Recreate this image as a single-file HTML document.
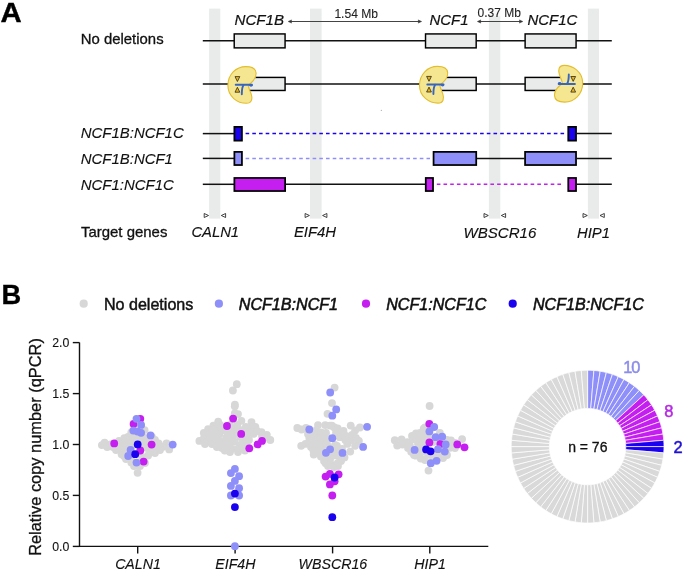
<!DOCTYPE html>
<html><head><meta charset="utf-8"><style>
html,body{margin:0;padding:0;background:#fff;}
svg{display:block;font-family:"Liberation Sans",sans-serif;will-change:transform;}

</style></head><body>
<svg width="685" height="571" viewBox="0 0 685 571">
<rect width="685" height="571" fill="#fff"/>
<rect x="209.1" y="8.6" width="11.2" height="210.0" fill="#e9eaea"/>
<rect x="310.0" y="8.6" width="11.6" height="210.0" fill="#e9eaea"/>
<rect x="488.9" y="8.6" width="11.4" height="210.0" fill="#e9eaea"/>
<rect x="587.9" y="8.6" width="11.1" height="210.0" fill="#e9eaea"/>
<line x1="202.8" y1="40.8" x2="611.8" y2="40.8" stroke="#111" stroke-width="1.5"/>
<rect x="234.22" y="33.93" width="50.85" height="13.95" fill="#e9eaea" stroke="#000" stroke-width="1.45"/>
<rect x="425.53" y="33.93" width="50.65" height="13.95" fill="#e9eaea" stroke="#000" stroke-width="1.45"/>
<rect x="525.12" y="33.93" width="50.95" height="13.95" fill="#e9eaea" stroke="#000" stroke-width="1.45"/>
<line x1="202.8" y1="84.0" x2="611.8" y2="84.0" stroke="#111" stroke-width="1.5"/>
<rect x="234.22" y="77.42" width="50.85" height="13.05" fill="#e9eaea" stroke="#000" stroke-width="1.45"/>
<rect x="425.53" y="77.42" width="50.65" height="13.05" fill="#e9eaea" stroke="#000" stroke-width="1.45"/>
<rect x="525.12" y="77.42" width="50.95" height="13.05" fill="#e9eaea" stroke="#000" stroke-width="1.45"/>
<g transform="translate(227.4,66.6)"><path d="M20.8,18.8 C24,16 29,13 28.7,6.5 C28.4,1.5 24,0 18.5,0 C8.5,0 0.5,8 0.5,19 C0.5,30 10,36.7 19,36.7 C24.5,36.7 25.3,32 23.8,27.5 C22.8,24.5 21,21.5 20.8,18.8 Z" fill="#f5e792" stroke="#e4bd2c" stroke-width="1.1"/><path d="M7.6,10.0 L12.4,10.0 L10,14.9 Z" fill="#e8b21c" stroke="#2e2a1c" stroke-width="0.8"/><path d="M7.6,25.6 L12.4,25.6 L10,20.7 Z" fill="#e8b21c" stroke="#2e2a1c" stroke-width="0.8"/><path d="M8.3,18.1 L24.5,18.1" stroke="#3765c2" stroke-width="1.9" stroke-linecap="round" fill="none"/><path d="M16.1,18.4 C15,20 14.4,23 14.4,27.6" stroke="#3765c2" stroke-width="1.9" stroke-linecap="round" fill="none"/><ellipse cx="23.6" cy="18.7" rx="1.7" ry="1.35" fill="#3765c2"/></g>
<g transform="translate(419.0,66.4)"><path d="M20.8,18.8 C24,16 29,13 28.7,6.5 C28.4,1.5 24,0 18.5,0 C8.5,0 0.5,8 0.5,19 C0.5,30 10,36.7 19,36.7 C24.5,36.7 25.3,32 23.8,27.5 C22.8,24.5 21,21.5 20.8,18.8 Z" fill="#f5e792" stroke="#e4bd2c" stroke-width="1.1"/><path d="M7.6,10.0 L12.4,10.0 L10,14.9 Z" fill="#e8b21c" stroke="#2e2a1c" stroke-width="0.8"/><path d="M7.6,25.6 L12.4,25.6 L10,20.7 Z" fill="#e8b21c" stroke="#2e2a1c" stroke-width="0.8"/><path d="M8.3,18.1 L24.5,18.1" stroke="#3765c2" stroke-width="1.9" stroke-linecap="round" fill="none"/><path d="M16.1,18.4 C15,20 14.4,23 14.4,27.6" stroke="#3765c2" stroke-width="1.9" stroke-linecap="round" fill="none"/><ellipse cx="23.6" cy="18.7" rx="1.7" ry="1.35" fill="#3765c2"/></g>
<g transform="translate(583.2,102.1) rotate(180)"><path d="M20.8,18.8 C24,16 29,13 28.7,6.5 C28.4,1.5 24,0 18.5,0 C8.5,0 0.5,8 0.5,19 C0.5,30 10,36.7 19,36.7 C24.5,36.7 25.3,32 23.8,27.5 C22.8,24.5 21,21.5 20.8,18.8 Z" fill="#f5e792" stroke="#e4bd2c" stroke-width="1.1"/><path d="M7.6,10.0 L12.4,10.0 L10,14.9 Z" fill="#e8b21c" stroke="#2e2a1c" stroke-width="0.8"/><path d="M7.6,25.6 L12.4,25.6 L10,20.7 Z" fill="#e8b21c" stroke="#2e2a1c" stroke-width="0.8"/><path d="M8.3,18.1 L24.5,18.1" stroke="#3765c2" stroke-width="1.9" stroke-linecap="round" fill="none"/><path d="M16.1,18.4 C15,20 14.4,23 14.4,27.6" stroke="#3765c2" stroke-width="1.9" stroke-linecap="round" fill="none"/><ellipse cx="23.6" cy="18.7" rx="1.7" ry="1.35" fill="#3765c2"/></g>
<line x1="202.8" y1="133.6" x2="234" y2="133.6" stroke="#111" stroke-width="1.5"/>
<rect x="234.38" y="126.88" width="7.55" height="13.75" fill="#1a02ee" stroke="#000" stroke-width="1.75"/>
<line x1="245.6" y1="133.6" x2="564.5" y2="133.6" stroke="#1a02ee" stroke-width="1.5" stroke-dasharray="3.6,3.1"/>
<rect x="568.27" y="126.88" width="7.75" height="13.75" fill="#1a02ee" stroke="#000" stroke-width="1.75"/>
<line x1="576.5" y1="133.6" x2="611.8" y2="133.6" stroke="#111" stroke-width="1.5"/>
<line x1="202.8" y1="158.4" x2="234" y2="158.4" stroke="#111" stroke-width="1.5"/>
<rect x="234.38" y="151.88" width="7.55" height="13.15" fill="#8f8ff9" stroke="#000" stroke-width="1.75"/>
<line x1="245.6" y1="158.4" x2="430.0" y2="158.4" stroke="#8f8ff9" stroke-width="1.5" stroke-dasharray="3.6,3.1"/>
<rect x="433.57" y="151.88" width="42.65" height="13.15" fill="#8f8ff9" stroke="#000" stroke-width="1.75"/>
<line x1="477" y1="158.4" x2="524.5" y2="158.4" stroke="#111" stroke-width="1.5"/>
<rect x="525.08" y="151.88" width="50.95" height="13.15" fill="#8f8ff9" stroke="#000" stroke-width="1.75"/>
<line x1="576.5" y1="158.4" x2="611.8" y2="158.4" stroke="#111" stroke-width="1.5"/>
<line x1="202.8" y1="184.3" x2="234" y2="184.3" stroke="#111" stroke-width="1.5"/>
<rect x="234.38" y="177.97" width="50.75" height="13.05" fill="#c41ff0" stroke="#000" stroke-width="1.75"/>
<line x1="285.5" y1="184.3" x2="425.2" y2="184.3" stroke="#111" stroke-width="1.5"/>
<rect x="425.77" y="177.97" width="7.25" height="13.05" fill="#c41ff0" stroke="#000" stroke-width="1.75"/>
<line x1="436.8" y1="184.3" x2="564.0" y2="184.3" stroke="#c41ff0" stroke-width="1.5" stroke-dasharray="3.6,3.1"/>
<rect x="568.27" y="177.97" width="7.75" height="13.05" fill="#c41ff0" stroke="#000" stroke-width="1.75"/>
<line x1="576.5" y1="184.3" x2="611.8" y2="184.3" stroke="#111" stroke-width="1.5"/>
<path d="M204.2,213.5 L208.5,215.5 L204.2,217.5 Z" fill="none" stroke="#222" stroke-width="0.85" stroke-linejoin="round"/>
<path d="M225.6,213.5 L221.3,215.5 L225.6,217.5 Z" fill="none" stroke="#222" stroke-width="0.85" stroke-linejoin="round"/>
<path d="M305.1,213.5 L309.4,215.5 L305.1,217.5 Z" fill="none" stroke="#222" stroke-width="0.85" stroke-linejoin="round"/>
<path d="M326.9,213.5 L322.6,215.5 L326.9,217.5 Z" fill="none" stroke="#222" stroke-width="0.85" stroke-linejoin="round"/>
<path d="M484.0,213.5 L488.3,215.5 L484.0,217.5 Z" fill="none" stroke="#222" stroke-width="0.85" stroke-linejoin="round"/>
<path d="M505.6,213.5 L501.3,215.5 L505.6,217.5 Z" fill="none" stroke="#222" stroke-width="0.85" stroke-linejoin="round"/>
<path d="M583.0,213.5 L587.3,215.5 L583.0,217.5 Z" fill="none" stroke="#222" stroke-width="0.85" stroke-linejoin="round"/>
<path d="M604.3,213.5 L600.0,215.5 L604.3,217.5 Z" fill="none" stroke="#222" stroke-width="0.85" stroke-linejoin="round"/>
<line x1="290" y1="21.5" x2="420" y2="21.5" stroke="#444" stroke-width="1.0"/>
<path d="M288.2,21.5 L291.59999999999997,19.9 L291.09999999999997,21.5 L291.59999999999997,23.1 Z" fill="#333" stroke="#333" stroke-width="0.5" stroke-linejoin="round"/>
<path d="M421.6,21.5 L418.20000000000005,19.9 L418.70000000000005,21.5 L418.20000000000005,23.1 Z" fill="#333" stroke="#333" stroke-width="0.5" stroke-linejoin="round"/>
<line x1="479" y1="21.5" x2="521" y2="21.5" stroke="#444" stroke-width="1.0"/>
<path d="M477.4,21.5 L480.79999999999995,19.9 L480.29999999999995,21.5 L480.79999999999995,23.1 Z" fill="#333" stroke="#333" stroke-width="0.5" stroke-linejoin="round"/>
<path d="M522.8,21.5 L519.4,19.9 L519.9,21.5 L519.4,23.1 Z" fill="#333" stroke="#333" stroke-width="0.5" stroke-linejoin="round"/>
<text transform="translate(0.5,22.0) scale(1.04,1)" font-size="28.2" font-weight="bold" fill="#000" stroke="#000" stroke-width="0.4">A</text>
<text x="80.8" y="43.8" font-size="14.9" text-anchor="start" fill="#111" stroke="#111" stroke-width="0.3" font-weight="normal" >No deletions</text>
<text x="80.8" y="138.1" font-size="14.95" text-anchor="start" fill="#111" stroke="#111" stroke-width="0.12" font-weight="normal" font-style="italic" >NCF1B:NCF1C</text>
<text x="80.8" y="163.6" font-size="14.95" text-anchor="start" fill="#111" stroke="#111" stroke-width="0.12" font-weight="normal" font-style="italic" >NCF1B:NCF1</text>
<text x="80.8" y="189.9" font-size="14.95" text-anchor="start" fill="#111" stroke="#111" stroke-width="0.12" font-weight="normal" font-style="italic" >NCF1:NCF1C</text>
<text x="81.0" y="237.4" font-size="14.95" text-anchor="start" fill="#111" stroke="#111" stroke-width="0.3" font-weight="normal" >Target genes</text>
<text x="234.5" y="24.8" font-size="15.1" text-anchor="start" fill="#111" stroke="#111" stroke-width="0.2" font-weight="normal" font-style="italic" >NCF1B</text>
<text x="429.5" y="24.9" font-size="14.95" text-anchor="start" fill="#111" stroke="#111" stroke-width="0.2" font-weight="normal" font-style="italic" >NCF1</text>
<text x="577.3" y="24.9" font-size="14.95" text-anchor="end" fill="#111" stroke="#111" stroke-width="0.2" font-weight="normal" font-style="italic" >NCF1C</text>
<text x="334.4" y="18" font-size="12.1" text-anchor="start" fill="#222" stroke="#222" stroke-width="0.1" font-weight="normal" >1.54 Mb</text>
<rect x="488" y="8" width="13" height="8.3" fill="#fff" opacity="0.7"/>
<text x="477.6" y="17.4" font-size="12.0" text-anchor="start" fill="#222" stroke="#222" stroke-width="0.1" font-weight="normal" >0.37 Mb</text>
<text x="191.4" y="237.2" font-size="14.8" text-anchor="start" fill="#111" stroke="#111" stroke-width="0.12" font-weight="normal" font-style="italic" >CALN1</text>
<text x="293.9" y="237.2" font-size="14.9" text-anchor="start" fill="#111" stroke="#111" stroke-width="0.12" font-weight="normal" font-style="italic" >EIF4H</text>
<text x="463.4" y="237.6" font-size="15.1" text-anchor="start" fill="#111" stroke="#111" stroke-width="0.12" font-weight="normal" font-style="italic" >WBSCR16</text>
<text x="577.0" y="237.6" font-size="14.8" text-anchor="start" fill="#111" stroke="#111" stroke-width="0.12" font-weight="normal" font-style="italic" >HIP1</text>
<circle cx="381.4" cy="110.4" r="0.7" fill="#bbb"/>
<text x="1.4" y="304.4" font-size="27.3" text-anchor="start" fill="#000" stroke="#000" stroke-width="0.3" font-weight="bold" >B</text>
<circle cx="83.7" cy="303.7" r="4.1" fill="#d7d7d7"/>
<circle cx="218.9" cy="303.7" r="4.1" fill="#8f8ff9"/>
<circle cx="366" cy="303.7" r="4.1" fill="#c41ff0"/>
<circle cx="512.7" cy="303.7" r="4.1" fill="#1a02ee"/>
<text x="103.9" y="309.5" font-size="16.1" text-anchor="start" fill="#111" stroke="#111" stroke-width="0.45" font-weight="normal" >No deletions</text>
<text x="238.8" y="309.5" font-size="16.1" text-anchor="start" fill="#111" stroke="#111" stroke-width="0.55" font-weight="normal" font-style="italic" >NCF1B:NCF1</text>
<text x="386.2" y="309.5" font-size="16.1" text-anchor="start" fill="#111" stroke="#111" stroke-width="0.55" font-weight="normal" font-style="italic" >NCF1:NCF1C</text>
<text x="533.0" y="309.5" font-size="16.1" text-anchor="start" fill="#111" stroke="#111" stroke-width="0.55" font-weight="normal" font-style="italic" >NCF1B:NCF1C</text>
<path d="M79.5,342.6 L79.5,546.4 L488.3,546.4" fill="none" stroke="#111" stroke-width="1.4"/>
<line x1="72.8" y1="546.4" x2="79.5" y2="546.4" stroke="#111" stroke-width="1.4"/>
<text x="69.3" y="550.7" font-size="12.3" text-anchor="end" fill="#111" stroke="#111" stroke-width="0.1" font-weight="normal" >0.0</text>
<line x1="72.8" y1="495.4" x2="79.5" y2="495.4" stroke="#111" stroke-width="1.4"/>
<text x="69.3" y="499.8" font-size="12.3" text-anchor="end" fill="#111" stroke="#111" stroke-width="0.1" font-weight="normal" >0.5</text>
<line x1="72.8" y1="444.5" x2="79.5" y2="444.5" stroke="#111" stroke-width="1.4"/>
<text x="69.3" y="448.8" font-size="12.3" text-anchor="end" fill="#111" stroke="#111" stroke-width="0.1" font-weight="normal" >1.0</text>
<line x1="72.8" y1="393.6" x2="79.5" y2="393.6" stroke="#111" stroke-width="1.4"/>
<text x="69.3" y="397.9" font-size="12.3" text-anchor="end" fill="#111" stroke="#111" stroke-width="0.1" font-weight="normal" >1.5</text>
<line x1="72.8" y1="342.6" x2="79.5" y2="342.6" stroke="#111" stroke-width="1.4"/>
<text x="69.3" y="346.9" font-size="12.3" text-anchor="end" fill="#111" stroke="#111" stroke-width="0.1" font-weight="normal" >2.0</text>
<line x1="137.7" y1="546.4" x2="137.7" y2="553.4" stroke="#111" stroke-width="1.4"/>
<text x="138.0" y="569.2" font-size="14.2" text-anchor="middle" fill="#111" stroke="#111" stroke-width="0.12" font-weight="normal" font-style="italic" >CALN1</text>
<line x1="235.1" y1="546.4" x2="235.1" y2="553.4" stroke="#111" stroke-width="1.4"/>
<text x="235.4" y="569.2" font-size="14.2" text-anchor="middle" fill="#111" stroke="#111" stroke-width="0.12" font-weight="normal" font-style="italic" >EIF4H</text>
<line x1="332.6" y1="546.4" x2="332.6" y2="553.4" stroke="#111" stroke-width="1.4"/>
<text x="332.90000000000003" y="569.2" font-size="14.2" text-anchor="middle" fill="#111" stroke="#111" stroke-width="0.12" font-weight="normal" font-style="italic" >WBSCR16</text>
<line x1="429.8" y1="546.4" x2="429.8" y2="553.4" stroke="#111" stroke-width="1.4"/>
<text x="430.1" y="569.2" font-size="14.2" text-anchor="middle" fill="#111" stroke="#111" stroke-width="0.12" font-weight="normal" font-style="italic" >HIP1</text>
<text transform="translate(40.5,447) rotate(-90)" x="0" y="0" font-size="16.4" text-anchor="middle" fill="#111" stroke="#111" stroke-width="0.3">Relative copy number (qPCR)</text>
<circle cx="101.9" cy="445.1" r="3.9" fill="#d7d7d7"/>
<circle cx="104.6" cy="442.6" r="3.9" fill="#d7d7d7"/>
<circle cx="107.2" cy="447.0" r="3.9" fill="#d7d7d7"/>
<circle cx="110.5" cy="444.5" r="3.9" fill="#d7d7d7"/>
<circle cx="119.0" cy="441.0" r="3.9" fill="#d7d7d7"/>
<circle cx="118.6" cy="448.1" r="3.9" fill="#d7d7d7"/>
<circle cx="123.0" cy="444.0" r="3.9" fill="#d7d7d7"/>
<circle cx="124.3" cy="438.1" r="3.9" fill="#d7d7d7"/>
<circle cx="127.0" cy="446.5" r="3.9" fill="#d7d7d7"/>
<circle cx="129.0" cy="441.0" r="3.9" fill="#d7d7d7"/>
<circle cx="131.3" cy="432.4" r="3.9" fill="#d7d7d7"/>
<circle cx="128.0" cy="437.0" r="3.9" fill="#d7d7d7"/>
<circle cx="133.0" cy="438.0" r="3.9" fill="#d7d7d7"/>
<circle cx="145.0" cy="438.0" r="3.9" fill="#d7d7d7"/>
<circle cx="148.0" cy="441.0" r="3.9" fill="#d7d7d7"/>
<circle cx="144.6" cy="430.1" r="3.9" fill="#d7d7d7"/>
<circle cx="155.0" cy="440.0" r="3.9" fill="#d7d7d7"/>
<circle cx="157.0" cy="448.0" r="3.9" fill="#d7d7d7"/>
<circle cx="158.6" cy="443.3" r="3.9" fill="#d7d7d7"/>
<circle cx="163.0" cy="446.8" r="3.9" fill="#d7d7d7"/>
<circle cx="166.5" cy="443.3" r="3.9" fill="#d7d7d7"/>
<circle cx="169.2" cy="449.4" r="3.9" fill="#d7d7d7"/>
<circle cx="160.0" cy="450.0" r="3.9" fill="#d7d7d7"/>
<circle cx="147.0" cy="448.0" r="3.9" fill="#d7d7d7"/>
<circle cx="150.0" cy="452.0" r="3.9" fill="#d7d7d7"/>
<circle cx="148.1" cy="455.5" r="3.9" fill="#d7d7d7"/>
<circle cx="121.6" cy="454.3" r="3.9" fill="#d7d7d7"/>
<circle cx="125.0" cy="451.0" r="3.9" fill="#d7d7d7"/>
<circle cx="116.0" cy="450.0" r="3.9" fill="#d7d7d7"/>
<circle cx="113.0" cy="447.0" r="3.9" fill="#d7d7d7"/>
<circle cx="131.3" cy="462.6" r="3.9" fill="#d7d7d7"/>
<circle cx="134.0" cy="466.0" r="3.9" fill="#d7d7d7"/>
<circle cx="137.6" cy="472.8" r="3.9" fill="#d7d7d7"/>
<circle cx="140.0" cy="466.0" r="3.9" fill="#d7d7d7"/>
<circle cx="142.0" cy="457.0" r="3.9" fill="#d7d7d7"/>
<circle cx="145.0" cy="463.0" r="3.9" fill="#d7d7d7"/>
<circle cx="131.0" cy="458.0" r="3.9" fill="#d7d7d7"/>
<circle cx="126.0" cy="459.0" r="3.9" fill="#d7d7d7"/>
<circle cx="137.0" cy="436.0" r="3.9" fill="#d7d7d7"/>
<circle cx="141.0" cy="440.0" r="3.9" fill="#d7d7d7"/>
<circle cx="152.0" cy="437.0" r="3.9" fill="#d7d7d7"/>
<circle cx="135.0" cy="441.0" r="3.9" fill="#d7d7d7"/>
<circle cx="127.0" cy="452.0" r="3.9" fill="#d7d7d7"/>
<circle cx="124.0" cy="456.0" r="3.9" fill="#d7d7d7"/>
<circle cx="131.0" cy="447.0" r="3.9" fill="#d7d7d7"/>
<circle cx="126.0" cy="442.0" r="3.9" fill="#d7d7d7"/>
<circle cx="152.0" cy="448.0" r="3.9" fill="#d7d7d7"/>
<circle cx="155.0" cy="453.0" r="3.9" fill="#d7d7d7"/>
<circle cx="119.0" cy="444.0" r="3.9" fill="#d7d7d7"/>
<circle cx="145.0" cy="444.0" r="3.9" fill="#d7d7d7"/>
<circle cx="160.0" cy="446.0" r="3.9" fill="#d7d7d7"/>
<circle cx="133.0" cy="443.0" r="3.9" fill="#d7d7d7"/>
<circle cx="236.8" cy="384.2" r="3.9" fill="#d7d7d7"/>
<circle cx="232.9" cy="390.5" r="3.9" fill="#d7d7d7"/>
<circle cx="234.9" cy="404.7" r="3.9" fill="#d7d7d7"/>
<circle cx="234.8" cy="406.3" r="3.9" fill="#d7d7d7"/>
<circle cx="234.8" cy="413.3" r="3.9" fill="#d7d7d7"/>
<circle cx="238.0" cy="414.1" r="3.9" fill="#d7d7d7"/>
<circle cx="218.2" cy="421.6" r="3.9" fill="#d7d7d7"/>
<circle cx="213.4" cy="425.6" r="3.9" fill="#d7d7d7"/>
<circle cx="208.1" cy="429.1" r="3.9" fill="#d7d7d7"/>
<circle cx="203.8" cy="433.0" r="3.9" fill="#d7d7d7"/>
<circle cx="199.4" cy="440.9" r="3.9" fill="#d7d7d7"/>
<circle cx="207.3" cy="441.8" r="3.9" fill="#d7d7d7"/>
<circle cx="216.9" cy="447.0" r="3.9" fill="#d7d7d7"/>
<circle cx="224.8" cy="450.5" r="3.9" fill="#d7d7d7"/>
<circle cx="231.8" cy="448.8" r="3.9" fill="#d7d7d7"/>
<circle cx="212.5" cy="437.4" r="3.9" fill="#d7d7d7"/>
<circle cx="219.5" cy="433.9" r="3.9" fill="#d7d7d7"/>
<circle cx="221.3" cy="441.8" r="3.9" fill="#d7d7d7"/>
<circle cx="228.3" cy="433.9" r="3.9" fill="#d7d7d7"/>
<circle cx="216.9" cy="428.6" r="3.9" fill="#d7d7d7"/>
<circle cx="225.6" cy="444.4" r="3.9" fill="#d7d7d7"/>
<circle cx="234.4" cy="441.8" r="3.9" fill="#d7d7d7"/>
<circle cx="236.2" cy="427.8" r="3.9" fill="#d7d7d7"/>
<circle cx="241.4" cy="420.8" r="3.9" fill="#d7d7d7"/>
<circle cx="251.5" cy="422.1" r="3.9" fill="#d7d7d7"/>
<circle cx="255.4" cy="426.9" r="3.9" fill="#d7d7d7"/>
<circle cx="261.5" cy="432.1" r="3.9" fill="#d7d7d7"/>
<circle cx="266.8" cy="434.8" r="3.9" fill="#d7d7d7"/>
<circle cx="270.3" cy="440.0" r="3.9" fill="#d7d7d7"/>
<circle cx="245.8" cy="426.9" r="3.9" fill="#d7d7d7"/>
<circle cx="247.5" cy="433.9" r="3.9" fill="#d7d7d7"/>
<circle cx="253.6" cy="433.9" r="3.9" fill="#d7d7d7"/>
<circle cx="249.0" cy="440.0" r="3.9" fill="#d7d7d7"/>
<circle cx="244.0" cy="441.8" r="3.9" fill="#d7d7d7"/>
<circle cx="244.9" cy="450.5" r="3.9" fill="#d7d7d7"/>
<circle cx="237.9" cy="448.8" r="3.9" fill="#d7d7d7"/>
<circle cx="232.6" cy="430.4" r="3.9" fill="#d7d7d7"/>
<circle cx="222.0" cy="428.0" r="3.9" fill="#d7d7d7"/>
<circle cx="210.0" cy="433.0" r="3.9" fill="#d7d7d7"/>
<circle cx="204.0" cy="438.0" r="3.9" fill="#d7d7d7"/>
<circle cx="226.0" cy="438.0" r="3.9" fill="#d7d7d7"/>
<circle cx="240.0" cy="437.0" r="3.9" fill="#d7d7d7"/>
<circle cx="264.0" cy="438.0" r="3.9" fill="#d7d7d7"/>
<circle cx="229.0" cy="446.0" r="3.9" fill="#d7d7d7"/>
<circle cx="220.0" cy="446.0" r="3.9" fill="#d7d7d7"/>
<circle cx="212.0" cy="444.0" r="3.9" fill="#d7d7d7"/>
<circle cx="240.0" cy="445.0" r="3.9" fill="#d7d7d7"/>
<circle cx="247.0" cy="446.0" r="3.9" fill="#d7d7d7"/>
<circle cx="230.0" cy="425.0" r="3.9" fill="#d7d7d7"/>
<circle cx="215.0" cy="437.7" r="3.9" fill="#d7d7d7"/>
<circle cx="229.4" cy="433.0" r="3.9" fill="#d7d7d7"/>
<circle cx="237.3" cy="425.0" r="3.9" fill="#d7d7d7"/>
<circle cx="250.0" cy="428.3" r="3.9" fill="#d7d7d7"/>
<circle cx="228.0" cy="440.0" r="3.9" fill="#d7d7d7"/>
<circle cx="233.0" cy="436.0" r="3.9" fill="#d7d7d7"/>
<circle cx="218.0" cy="438.0" r="3.9" fill="#d7d7d7"/>
<circle cx="238.0" cy="432.0" r="3.9" fill="#d7d7d7"/>
<circle cx="246.0" cy="438.0" r="3.9" fill="#d7d7d7"/>
<circle cx="252.0" cy="428.0" r="3.9" fill="#d7d7d7"/>
<circle cx="257.0" cy="431.0" r="3.9" fill="#d7d7d7"/>
<circle cx="262.0" cy="436.0" r="3.9" fill="#d7d7d7"/>
<circle cx="208.0" cy="436.0" r="3.9" fill="#d7d7d7"/>
<circle cx="214.0" cy="432.0" r="3.9" fill="#d7d7d7"/>
<circle cx="226.0" cy="431.0" r="3.9" fill="#d7d7d7"/>
<circle cx="220.0" cy="425.0" r="3.9" fill="#d7d7d7"/>
<circle cx="243.0" cy="430.0" r="3.9" fill="#d7d7d7"/>
<circle cx="222.0" cy="448.0" r="3.9" fill="#d7d7d7"/>
<circle cx="230.0" cy="452.0" r="3.9" fill="#d7d7d7"/>
<circle cx="238.0" cy="452.0" r="3.9" fill="#d7d7d7"/>
<circle cx="216.0" cy="443.0" r="3.9" fill="#d7d7d7"/>
<circle cx="205.0" cy="444.0" r="3.9" fill="#d7d7d7"/>
<circle cx="334.6" cy="387.6" r="3.9" fill="#d7d7d7"/>
<circle cx="332.0" cy="403.1" r="3.9" fill="#d7d7d7"/>
<circle cx="327.5" cy="413.8" r="3.9" fill="#d7d7d7"/>
<circle cx="297.3" cy="428.0" r="3.9" fill="#d7d7d7"/>
<circle cx="301.6" cy="429.5" r="3.9" fill="#d7d7d7"/>
<circle cx="306.0" cy="428.0" r="3.9" fill="#d7d7d7"/>
<circle cx="318.0" cy="425.1" r="3.9" fill="#d7d7d7"/>
<circle cx="316.1" cy="430.4" r="3.9" fill="#d7d7d7"/>
<circle cx="320.9" cy="432.3" r="3.9" fill="#d7d7d7"/>
<circle cx="325.2" cy="425.1" r="3.9" fill="#d7d7d7"/>
<circle cx="330.1" cy="425.6" r="3.9" fill="#d7d7d7"/>
<circle cx="334.4" cy="427.5" r="3.9" fill="#d7d7d7"/>
<circle cx="309.3" cy="438.1" r="3.9" fill="#d7d7d7"/>
<circle cx="314.2" cy="441.0" r="3.9" fill="#d7d7d7"/>
<circle cx="320.0" cy="442.0" r="3.9" fill="#d7d7d7"/>
<circle cx="301.2" cy="445.8" r="3.9" fill="#d7d7d7"/>
<circle cx="305.5" cy="443.9" r="3.9" fill="#d7d7d7"/>
<circle cx="313.7" cy="454.5" r="3.9" fill="#d7d7d7"/>
<circle cx="318.0" cy="452.6" r="3.9" fill="#d7d7d7"/>
<circle cx="320.9" cy="456.4" r="3.9" fill="#d7d7d7"/>
<circle cx="325.7" cy="463.2" r="3.9" fill="#d7d7d7"/>
<circle cx="332.5" cy="465.1" r="3.9" fill="#d7d7d7"/>
<circle cx="323.8" cy="446.8" r="3.9" fill="#d7d7d7"/>
<circle cx="331.9" cy="425.6" r="3.9" fill="#d7d7d7"/>
<circle cx="337.7" cy="428.5" r="3.9" fill="#d7d7d7"/>
<circle cx="343.5" cy="430.9" r="3.9" fill="#d7d7d7"/>
<circle cx="350.7" cy="425.6" r="3.9" fill="#d7d7d7"/>
<circle cx="355.1" cy="430.4" r="3.9" fill="#d7d7d7"/>
<circle cx="359.9" cy="427.5" r="3.9" fill="#d7d7d7"/>
<circle cx="339.6" cy="437.2" r="3.9" fill="#d7d7d7"/>
<circle cx="345.4" cy="440.1" r="3.9" fill="#d7d7d7"/>
<circle cx="351.2" cy="440.1" r="3.9" fill="#d7d7d7"/>
<circle cx="358.9" cy="441.0" r="3.9" fill="#d7d7d7"/>
<circle cx="355.1" cy="445.8" r="3.9" fill="#d7d7d7"/>
<circle cx="347.3" cy="443.9" r="3.9" fill="#d7d7d7"/>
<circle cx="350.2" cy="451.6" r="3.9" fill="#d7d7d7"/>
<circle cx="344.5" cy="457.4" r="3.9" fill="#d7d7d7"/>
<circle cx="337.7" cy="463.2" r="3.9" fill="#d7d7d7"/>
<circle cx="333.9" cy="467.0" r="3.9" fill="#d7d7d7"/>
<circle cx="326.0" cy="458.0" r="3.9" fill="#d7d7d7"/>
<circle cx="330.0" cy="460.0" r="3.9" fill="#d7d7d7"/>
<circle cx="338.0" cy="456.0" r="3.9" fill="#d7d7d7"/>
<circle cx="341.0" cy="460.0" r="3.9" fill="#d7d7d7"/>
<circle cx="312.0" cy="433.0" r="3.9" fill="#d7d7d7"/>
<circle cx="326.0" cy="433.0" r="3.9" fill="#d7d7d7"/>
<circle cx="336.0" cy="433.0" r="3.9" fill="#d7d7d7"/>
<circle cx="327.0" cy="444.0" r="3.9" fill="#d7d7d7"/>
<circle cx="337.0" cy="446.0" r="3.9" fill="#d7d7d7"/>
<circle cx="342.0" cy="449.0" r="3.9" fill="#d7d7d7"/>
<circle cx="321.0" cy="450.0" r="3.9" fill="#d7d7d7"/>
<circle cx="316.0" cy="446.0" r="3.9" fill="#d7d7d7"/>
<circle cx="311.0" cy="447.0" r="3.9" fill="#d7d7d7"/>
<circle cx="308.0" cy="434.0" r="3.9" fill="#d7d7d7"/>
<circle cx="313.0" cy="437.0" r="3.9" fill="#d7d7d7"/>
<circle cx="318.0" cy="436.0" r="3.9" fill="#d7d7d7"/>
<circle cx="322.0" cy="440.0" r="3.9" fill="#d7d7d7"/>
<circle cx="327.0" cy="438.0" r="3.9" fill="#d7d7d7"/>
<circle cx="310.0" cy="443.0" r="3.9" fill="#d7d7d7"/>
<circle cx="316.0" cy="449.0" r="3.9" fill="#d7d7d7"/>
<circle cx="322.0" cy="455.0" r="3.9" fill="#d7d7d7"/>
<circle cx="327.0" cy="456.0" r="3.9" fill="#d7d7d7"/>
<circle cx="321.2" cy="433.0" r="3.9" fill="#d7d7d7"/>
<circle cx="316.5" cy="444.0" r="3.9" fill="#d7d7d7"/>
<circle cx="313.4" cy="450.4" r="3.9" fill="#d7d7d7"/>
<circle cx="340.0" cy="433.0" r="3.9" fill="#d7d7d7"/>
<circle cx="346.0" cy="436.0" r="3.9" fill="#d7d7d7"/>
<circle cx="352.0" cy="435.0" r="3.9" fill="#d7d7d7"/>
<circle cx="356.0" cy="438.0" r="3.9" fill="#d7d7d7"/>
<circle cx="324.0" cy="461.0" r="3.9" fill="#d7d7d7"/>
<circle cx="341.0" cy="461.0" r="3.9" fill="#d7d7d7"/>
<circle cx="328.0" cy="466.0" r="3.9" fill="#d7d7d7"/>
<circle cx="338.0" cy="466.0" r="3.9" fill="#d7d7d7"/>
<circle cx="335.0" cy="445.0" r="3.9" fill="#d7d7d7"/>
<circle cx="332.0" cy="456.0" r="3.9" fill="#d7d7d7"/>
<circle cx="328.0" cy="447.0" r="3.9" fill="#d7d7d7"/>
<circle cx="336.0" cy="452.0" r="3.9" fill="#d7d7d7"/>
<circle cx="429.6" cy="406.0" r="3.9" fill="#d7d7d7"/>
<circle cx="394.8" cy="440.2" r="3.9" fill="#d7d7d7"/>
<circle cx="397.2" cy="445.5" r="3.9" fill="#d7d7d7"/>
<circle cx="401.6" cy="439.3" r="3.9" fill="#d7d7d7"/>
<circle cx="402.5" cy="444.6" r="3.9" fill="#d7d7d7"/>
<circle cx="407.3" cy="442.2" r="3.9" fill="#d7d7d7"/>
<circle cx="416.0" cy="433.5" r="3.9" fill="#d7d7d7"/>
<circle cx="413.1" cy="439.3" r="3.9" fill="#d7d7d7"/>
<circle cx="423.7" cy="428.7" r="3.9" fill="#d7d7d7"/>
<circle cx="418.9" cy="439.3" r="3.9" fill="#d7d7d7"/>
<circle cx="411.2" cy="451.8" r="3.9" fill="#d7d7d7"/>
<circle cx="416.0" cy="455.7" r="3.9" fill="#d7d7d7"/>
<circle cx="420.8" cy="458.5" r="3.9" fill="#d7d7d7"/>
<circle cx="418.9" cy="448.9" r="3.9" fill="#d7d7d7"/>
<circle cx="428.5" cy="470.6" r="3.9" fill="#d7d7d7"/>
<circle cx="421.8" cy="444.1" r="3.9" fill="#d7d7d7"/>
<circle cx="439.9" cy="432.8" r="3.9" fill="#d7d7d7"/>
<circle cx="451.0" cy="440.5" r="3.9" fill="#d7d7d7"/>
<circle cx="462.1" cy="439.1" r="3.9" fill="#d7d7d7"/>
<circle cx="450.1" cy="447.8" r="3.9" fill="#d7d7d7"/>
<circle cx="439.5" cy="454.5" r="3.9" fill="#d7d7d7"/>
<circle cx="427.9" cy="454.5" r="3.9" fill="#d7d7d7"/>
<circle cx="425.0" cy="427.5" r="3.9" fill="#d7d7d7"/>
<circle cx="425.0" cy="438.0" r="3.9" fill="#d7d7d7"/>
<circle cx="433.0" cy="442.0" r="3.9" fill="#d7d7d7"/>
<circle cx="436.0" cy="455.0" r="3.9" fill="#d7d7d7"/>
<circle cx="444.0" cy="456.0" r="3.9" fill="#d7d7d7"/>
<circle cx="447.0" cy="440.0" r="3.9" fill="#d7d7d7"/>
<circle cx="455.0" cy="443.0" r="3.9" fill="#d7d7d7"/>
<circle cx="425.0" cy="460.0" r="3.9" fill="#d7d7d7"/>
<circle cx="424.0" cy="434.0" r="3.9" fill="#d7d7d7"/>
<circle cx="410.0" cy="446.0" r="3.9" fill="#d7d7d7"/>
<circle cx="418.0" cy="444.0" r="3.9" fill="#d7d7d7"/>
<circle cx="421.0" cy="452.0" r="3.9" fill="#d7d7d7"/>
<circle cx="425.0" cy="446.0" r="3.9" fill="#d7d7d7"/>
<circle cx="412.0" cy="436.0" r="3.9" fill="#d7d7d7"/>
<circle cx="420.0" cy="433.0" r="3.9" fill="#d7d7d7"/>
<circle cx="428.0" cy="437.0" r="3.9" fill="#d7d7d7"/>
<circle cx="437.0" cy="441.0" r="3.9" fill="#d7d7d7"/>
<circle cx="443.0" cy="458.0" r="3.9" fill="#d7d7d7"/>
<circle cx="447.0" cy="455.0" r="3.9" fill="#d7d7d7"/>
<circle cx="408.0" cy="448.0" r="3.9" fill="#d7d7d7"/>
<circle cx="414.0" cy="455.0" r="3.9" fill="#d7d7d7"/>
<circle cx="433.0" cy="458.0" r="3.9" fill="#d7d7d7"/>
<circle cx="455.0" cy="448.0" r="3.9" fill="#d7d7d7"/>
<circle cx="446.0" cy="448.0" r="3.9" fill="#d7d7d7"/>
<circle cx="140.3" cy="418.8" r="3.9" fill="#c41ff0"/>
<circle cx="133.6" cy="424.0" r="3.9" fill="#c41ff0"/>
<circle cx="114.2" cy="443.4" r="3.9" fill="#c41ff0"/>
<circle cx="151.6" cy="444.6" r="3.9" fill="#c41ff0"/>
<circle cx="140.3" cy="450.5" r="3.9" fill="#c41ff0"/>
<circle cx="143.6" cy="461.6" r="3.9" fill="#c41ff0"/>
<circle cx="233.1" cy="418.6" r="3.9" fill="#c41ff0"/>
<circle cx="227.0" cy="426.0" r="3.9" fill="#c41ff0"/>
<circle cx="241.2" cy="433.9" r="3.9" fill="#c41ff0"/>
<circle cx="262.0" cy="440.9" r="3.9" fill="#c41ff0"/>
<circle cx="257.6" cy="444.4" r="3.9" fill="#c41ff0"/>
<circle cx="249.3" cy="448.3" r="3.9" fill="#c41ff0"/>
<circle cx="325.6" cy="476.6" r="3.9" fill="#c41ff0"/>
<circle cx="329.9" cy="473.9" r="3.9" fill="#c41ff0"/>
<circle cx="338.6" cy="474.3" r="3.9" fill="#c41ff0"/>
<circle cx="329.9" cy="484.4" r="3.9" fill="#c41ff0"/>
<circle cx="334.6" cy="481.3" r="3.9" fill="#c41ff0"/>
<circle cx="332.3" cy="495.5" r="3.9" fill="#c41ff0"/>
<circle cx="429.3" cy="423.8" r="3.9" fill="#c41ff0"/>
<circle cx="429.4" cy="442.4" r="3.9" fill="#c41ff0"/>
<circle cx="440.4" cy="443.9" r="3.9" fill="#c41ff0"/>
<circle cx="457.3" cy="444.4" r="3.9" fill="#c41ff0"/>
<circle cx="464.5" cy="447.3" r="3.9" fill="#c41ff0"/>
<circle cx="136.5" cy="418.8" r="3.9" fill="#8f8ff9"/>
<circle cx="141.1" cy="424.9" r="3.9" fill="#8f8ff9"/>
<circle cx="133.3" cy="430.6" r="3.9" fill="#8f8ff9"/>
<circle cx="137.6" cy="431.5" r="3.9" fill="#8f8ff9"/>
<circle cx="141.1" cy="432.8" r="3.9" fill="#8f8ff9"/>
<circle cx="150.6" cy="435.4" r="3.9" fill="#8f8ff9"/>
<circle cx="172.7" cy="444.6" r="3.9" fill="#8f8ff9"/>
<circle cx="130.6" cy="449.9" r="3.9" fill="#8f8ff9"/>
<circle cx="128.2" cy="456.0" r="3.9" fill="#8f8ff9"/>
<circle cx="136.5" cy="462.6" r="3.9" fill="#8f8ff9"/>
<circle cx="234.9" cy="468.9" r="3.9" fill="#8f8ff9"/>
<circle cx="230.9" cy="473.1" r="3.9" fill="#8f8ff9"/>
<circle cx="239.1" cy="476.2" r="3.9" fill="#8f8ff9"/>
<circle cx="234.9" cy="480.9" r="3.9" fill="#8f8ff9"/>
<circle cx="230.9" cy="485.9" r="3.9" fill="#8f8ff9"/>
<circle cx="239.1" cy="488.2" r="3.9" fill="#8f8ff9"/>
<circle cx="230.9" cy="495.5" r="3.9" fill="#8f8ff9"/>
<circle cx="239.1" cy="495.5" r="3.9" fill="#8f8ff9"/>
<circle cx="234.9" cy="546.2" r="3.9" fill="#8f8ff9"/>
<circle cx="330.2" cy="392.5" r="3.9" fill="#8f8ff9"/>
<circle cx="336.2" cy="409.4" r="3.9" fill="#8f8ff9"/>
<circle cx="332.3" cy="415.7" r="3.9" fill="#8f8ff9"/>
<circle cx="309.3" cy="429.5" r="3.9" fill="#8f8ff9"/>
<circle cx="367.1" cy="426.8" r="3.9" fill="#8f8ff9"/>
<circle cx="332.3" cy="438.2" r="3.9" fill="#8f8ff9"/>
<circle cx="363.1" cy="446.9" r="3.9" fill="#8f8ff9"/>
<circle cx="330.1" cy="449.3" r="3.9" fill="#8f8ff9"/>
<circle cx="325.9" cy="452.8" r="3.9" fill="#8f8ff9"/>
<circle cx="342.5" cy="452.9" r="3.9" fill="#8f8ff9"/>
<circle cx="434.2" cy="427.0" r="3.9" fill="#8f8ff9"/>
<circle cx="429.4" cy="431.4" r="3.9" fill="#8f8ff9"/>
<circle cx="435.6" cy="437.2" r="3.9" fill="#8f8ff9"/>
<circle cx="442.2" cy="436.7" r="3.9" fill="#8f8ff9"/>
<circle cx="445.7" cy="444.4" r="3.9" fill="#8f8ff9"/>
<circle cx="438.0" cy="449.2" r="3.9" fill="#8f8ff9"/>
<circle cx="444.8" cy="451.6" r="3.9" fill="#8f8ff9"/>
<circle cx="414.6" cy="449.9" r="3.9" fill="#8f8ff9"/>
<circle cx="430.8" cy="463.2" r="3.9" fill="#8f8ff9"/>
<circle cx="436.6" cy="460.8" r="3.9" fill="#8f8ff9"/>
<circle cx="137.7" cy="444.4" r="3.9" fill="#1a02ee"/>
<circle cx="135.2" cy="454.2" r="3.9" fill="#1a02ee"/>
<circle cx="234.9" cy="493.6" r="3.9" fill="#1a02ee"/>
<circle cx="234.9" cy="507.1" r="3.9" fill="#1a02ee"/>
<circle cx="334.6" cy="477.5" r="3.9" fill="#1a02ee"/>
<circle cx="332.3" cy="517.2" r="3.9" fill="#1a02ee"/>
<circle cx="426.1" cy="449.4" r="3.9" fill="#1a02ee"/>
<circle cx="430.6" cy="451.3" r="3.9" fill="#1a02ee"/>
<path d="M587.60,370.20 A76.4,76.4 0 0 1 593.91,370.46 L590.75,408.53 A38.2,38.2 0 0 0 587.60,408.40 Z" fill="#8f8ff9" stroke="#fff" stroke-width="0.7"/>
<path d="M593.91,370.46 A76.4,76.4 0 0 1 600.18,371.24 L593.89,408.92 A38.2,38.2 0 0 0 590.75,408.53 Z" fill="#8f8ff9" stroke="#fff" stroke-width="0.7"/>
<path d="M600.18,371.24 A76.4,76.4 0 0 1 606.36,372.54 L596.98,409.57 A38.2,38.2 0 0 0 593.89,408.92 Z" fill="#8f8ff9" stroke="#fff" stroke-width="0.7"/>
<path d="M606.36,372.54 A76.4,76.4 0 0 1 612.41,374.34 L600.00,410.47 A38.2,38.2 0 0 0 596.98,409.57 Z" fill="#8f8ff9" stroke="#fff" stroke-width="0.7"/>
<path d="M612.41,374.34 A76.4,76.4 0 0 1 618.29,376.63 L602.94,411.62 A38.2,38.2 0 0 0 600.00,410.47 Z" fill="#8f8ff9" stroke="#fff" stroke-width="0.7"/>
<path d="M618.29,376.63 A76.4,76.4 0 0 1 623.96,379.41 L605.78,413.00 A38.2,38.2 0 0 0 602.94,411.62 Z" fill="#8f8ff9" stroke="#fff" stroke-width="0.7"/>
<path d="M623.96,379.41 A76.4,76.4 0 0 1 629.39,382.64 L608.49,414.62 A38.2,38.2 0 0 0 605.78,413.00 Z" fill="#8f8ff9" stroke="#fff" stroke-width="0.7"/>
<path d="M629.39,382.64 A76.4,76.4 0 0 1 634.53,386.31 L611.06,416.45 A38.2,38.2 0 0 0 608.49,414.62 Z" fill="#8f8ff9" stroke="#fff" stroke-width="0.7"/>
<path d="M634.53,386.31 A76.4,76.4 0 0 1 639.34,390.39 L613.47,418.50 A38.2,38.2 0 0 0 611.06,416.45 Z" fill="#8f8ff9" stroke="#fff" stroke-width="0.7"/>
<path d="M639.34,390.39 A76.4,76.4 0 0 1 643.81,394.86 L615.70,420.73 A38.2,38.2 0 0 0 613.47,418.50 Z" fill="#8f8ff9" stroke="#fff" stroke-width="0.7"/>
<path d="M643.81,394.86 A76.4,76.4 0 0 1 647.89,399.67 L617.75,423.14 A38.2,38.2 0 0 0 615.70,420.73 Z" fill="#c41ff0" stroke="#fff" stroke-width="0.7"/>
<path d="M647.89,399.67 A76.4,76.4 0 0 1 651.56,404.81 L619.58,425.71 A38.2,38.2 0 0 0 617.75,423.14 Z" fill="#c41ff0" stroke="#fff" stroke-width="0.7"/>
<path d="M651.56,404.81 A76.4,76.4 0 0 1 654.79,410.24 L621.20,428.42 A38.2,38.2 0 0 0 619.58,425.71 Z" fill="#c41ff0" stroke="#fff" stroke-width="0.7"/>
<path d="M654.79,410.24 A76.4,76.4 0 0 1 657.57,415.91 L622.58,431.26 A38.2,38.2 0 0 0 621.20,428.42 Z" fill="#c41ff0" stroke="#fff" stroke-width="0.7"/>
<path d="M657.57,415.91 A76.4,76.4 0 0 1 659.86,421.79 L623.73,434.20 A38.2,38.2 0 0 0 622.58,431.26 Z" fill="#c41ff0" stroke="#fff" stroke-width="0.7"/>
<path d="M659.86,421.79 A76.4,76.4 0 0 1 661.66,427.84 L624.63,437.22 A38.2,38.2 0 0 0 623.73,434.20 Z" fill="#c41ff0" stroke="#fff" stroke-width="0.7"/>
<path d="M661.66,427.84 A76.4,76.4 0 0 1 662.96,434.02 L625.28,440.31 A38.2,38.2 0 0 0 624.63,437.22 Z" fill="#c41ff0" stroke="#fff" stroke-width="0.7"/>
<path d="M662.96,434.02 A76.4,76.4 0 0 1 663.74,440.29 L625.67,443.45 A38.2,38.2 0 0 0 625.28,440.31 Z" fill="#c41ff0" stroke="#fff" stroke-width="0.7"/>
<path d="M663.74,440.29 A76.4,76.4 0 0 1 664.00,446.60 L625.80,446.60 A38.2,38.2 0 0 0 625.67,443.45 Z" fill="#1a02ee" stroke="#fff" stroke-width="0.7"/>
<path d="M664.00,446.60 A76.4,76.4 0 0 1 663.74,452.91 L625.67,449.75 A38.2,38.2 0 0 0 625.80,446.60 Z" fill="#1a02ee" stroke="#fff" stroke-width="0.7"/>
<path d="M663.74,452.91 A76.4,76.4 0 0 1 662.96,459.18 L625.28,452.89 A38.2,38.2 0 0 0 625.67,449.75 Z" fill="#d9d9d9" stroke="#fff" stroke-width="0.7"/>
<path d="M662.96,459.18 A76.4,76.4 0 0 1 661.66,465.36 L624.63,455.98 A38.2,38.2 0 0 0 625.28,452.89 Z" fill="#d9d9d9" stroke="#fff" stroke-width="0.7"/>
<path d="M661.66,465.36 A76.4,76.4 0 0 1 659.86,471.41 L623.73,459.00 A38.2,38.2 0 0 0 624.63,455.98 Z" fill="#d9d9d9" stroke="#fff" stroke-width="0.7"/>
<path d="M659.86,471.41 A76.4,76.4 0 0 1 657.57,477.29 L622.58,461.94 A38.2,38.2 0 0 0 623.73,459.00 Z" fill="#d9d9d9" stroke="#fff" stroke-width="0.7"/>
<path d="M657.57,477.29 A76.4,76.4 0 0 1 654.79,482.96 L621.20,464.78 A38.2,38.2 0 0 0 622.58,461.94 Z" fill="#d9d9d9" stroke="#fff" stroke-width="0.7"/>
<path d="M654.79,482.96 A76.4,76.4 0 0 1 651.56,488.39 L619.58,467.49 A38.2,38.2 0 0 0 621.20,464.78 Z" fill="#d9d9d9" stroke="#fff" stroke-width="0.7"/>
<path d="M651.56,488.39 A76.4,76.4 0 0 1 647.89,493.53 L617.75,470.06 A38.2,38.2 0 0 0 619.58,467.49 Z" fill="#d9d9d9" stroke="#fff" stroke-width="0.7"/>
<path d="M647.89,493.53 A76.4,76.4 0 0 1 643.81,498.34 L615.70,472.47 A38.2,38.2 0 0 0 617.75,470.06 Z" fill="#d9d9d9" stroke="#fff" stroke-width="0.7"/>
<path d="M643.81,498.34 A76.4,76.4 0 0 1 639.34,502.81 L613.47,474.70 A38.2,38.2 0 0 0 615.70,472.47 Z" fill="#d9d9d9" stroke="#fff" stroke-width="0.7"/>
<path d="M639.34,502.81 A76.4,76.4 0 0 1 634.53,506.89 L611.06,476.75 A38.2,38.2 0 0 0 613.47,474.70 Z" fill="#d9d9d9" stroke="#fff" stroke-width="0.7"/>
<path d="M634.53,506.89 A76.4,76.4 0 0 1 629.39,510.56 L608.49,478.58 A38.2,38.2 0 0 0 611.06,476.75 Z" fill="#d9d9d9" stroke="#fff" stroke-width="0.7"/>
<path d="M629.39,510.56 A76.4,76.4 0 0 1 623.96,513.79 L605.78,480.20 A38.2,38.2 0 0 0 608.49,478.58 Z" fill="#d9d9d9" stroke="#fff" stroke-width="0.7"/>
<path d="M623.96,513.79 A76.4,76.4 0 0 1 618.29,516.57 L602.94,481.58 A38.2,38.2 0 0 0 605.78,480.20 Z" fill="#d9d9d9" stroke="#fff" stroke-width="0.7"/>
<path d="M618.29,516.57 A76.4,76.4 0 0 1 612.41,518.86 L600.00,482.73 A38.2,38.2 0 0 0 602.94,481.58 Z" fill="#d9d9d9" stroke="#fff" stroke-width="0.7"/>
<path d="M612.41,518.86 A76.4,76.4 0 0 1 606.36,520.66 L596.98,483.63 A38.2,38.2 0 0 0 600.00,482.73 Z" fill="#d9d9d9" stroke="#fff" stroke-width="0.7"/>
<path d="M606.36,520.66 A76.4,76.4 0 0 1 600.18,521.96 L593.89,484.28 A38.2,38.2 0 0 0 596.98,483.63 Z" fill="#d9d9d9" stroke="#fff" stroke-width="0.7"/>
<path d="M600.18,521.96 A76.4,76.4 0 0 1 593.91,522.74 L590.75,484.67 A38.2,38.2 0 0 0 593.89,484.28 Z" fill="#d9d9d9" stroke="#fff" stroke-width="0.7"/>
<path d="M593.91,522.74 A76.4,76.4 0 0 1 587.60,523.00 L587.60,484.80 A38.2,38.2 0 0 0 590.75,484.67 Z" fill="#d9d9d9" stroke="#fff" stroke-width="0.7"/>
<path d="M587.60,523.00 A76.4,76.4 0 0 1 581.29,522.74 L584.45,484.67 A38.2,38.2 0 0 0 587.60,484.80 Z" fill="#d9d9d9" stroke="#fff" stroke-width="0.7"/>
<path d="M581.29,522.74 A76.4,76.4 0 0 1 575.02,521.96 L581.31,484.28 A38.2,38.2 0 0 0 584.45,484.67 Z" fill="#d9d9d9" stroke="#fff" stroke-width="0.7"/>
<path d="M575.02,521.96 A76.4,76.4 0 0 1 568.84,520.66 L578.22,483.63 A38.2,38.2 0 0 0 581.31,484.28 Z" fill="#d9d9d9" stroke="#fff" stroke-width="0.7"/>
<path d="M568.84,520.66 A76.4,76.4 0 0 1 562.79,518.86 L575.20,482.73 A38.2,38.2 0 0 0 578.22,483.63 Z" fill="#d9d9d9" stroke="#fff" stroke-width="0.7"/>
<path d="M562.79,518.86 A76.4,76.4 0 0 1 556.91,516.57 L572.26,481.58 A38.2,38.2 0 0 0 575.20,482.73 Z" fill="#d9d9d9" stroke="#fff" stroke-width="0.7"/>
<path d="M556.91,516.57 A76.4,76.4 0 0 1 551.24,513.79 L569.42,480.20 A38.2,38.2 0 0 0 572.26,481.58 Z" fill="#d9d9d9" stroke="#fff" stroke-width="0.7"/>
<path d="M551.24,513.79 A76.4,76.4 0 0 1 545.81,510.56 L566.71,478.58 A38.2,38.2 0 0 0 569.42,480.20 Z" fill="#d9d9d9" stroke="#fff" stroke-width="0.7"/>
<path d="M545.81,510.56 A76.4,76.4 0 0 1 540.67,506.89 L564.14,476.75 A38.2,38.2 0 0 0 566.71,478.58 Z" fill="#d9d9d9" stroke="#fff" stroke-width="0.7"/>
<path d="M540.67,506.89 A76.4,76.4 0 0 1 535.86,502.81 L561.73,474.70 A38.2,38.2 0 0 0 564.14,476.75 Z" fill="#d9d9d9" stroke="#fff" stroke-width="0.7"/>
<path d="M535.86,502.81 A76.4,76.4 0 0 1 531.39,498.34 L559.50,472.47 A38.2,38.2 0 0 0 561.73,474.70 Z" fill="#d9d9d9" stroke="#fff" stroke-width="0.7"/>
<path d="M531.39,498.34 A76.4,76.4 0 0 1 527.31,493.53 L557.45,470.06 A38.2,38.2 0 0 0 559.50,472.47 Z" fill="#d9d9d9" stroke="#fff" stroke-width="0.7"/>
<path d="M527.31,493.53 A76.4,76.4 0 0 1 523.64,488.39 L555.62,467.49 A38.2,38.2 0 0 0 557.45,470.06 Z" fill="#d9d9d9" stroke="#fff" stroke-width="0.7"/>
<path d="M523.64,488.39 A76.4,76.4 0 0 1 520.41,482.96 L554.00,464.78 A38.2,38.2 0 0 0 555.62,467.49 Z" fill="#d9d9d9" stroke="#fff" stroke-width="0.7"/>
<path d="M520.41,482.96 A76.4,76.4 0 0 1 517.63,477.29 L552.62,461.94 A38.2,38.2 0 0 0 554.00,464.78 Z" fill="#d9d9d9" stroke="#fff" stroke-width="0.7"/>
<path d="M517.63,477.29 A76.4,76.4 0 0 1 515.34,471.41 L551.47,459.00 A38.2,38.2 0 0 0 552.62,461.94 Z" fill="#d9d9d9" stroke="#fff" stroke-width="0.7"/>
<path d="M515.34,471.41 A76.4,76.4 0 0 1 513.54,465.36 L550.57,455.98 A38.2,38.2 0 0 0 551.47,459.00 Z" fill="#d9d9d9" stroke="#fff" stroke-width="0.7"/>
<path d="M513.54,465.36 A76.4,76.4 0 0 1 512.24,459.18 L549.92,452.89 A38.2,38.2 0 0 0 550.57,455.98 Z" fill="#d9d9d9" stroke="#fff" stroke-width="0.7"/>
<path d="M512.24,459.18 A76.4,76.4 0 0 1 511.46,452.91 L549.53,449.75 A38.2,38.2 0 0 0 549.92,452.89 Z" fill="#d9d9d9" stroke="#fff" stroke-width="0.7"/>
<path d="M511.46,452.91 A76.4,76.4 0 0 1 511.20,446.60 L549.40,446.60 A38.2,38.2 0 0 0 549.53,449.75 Z" fill="#d9d9d9" stroke="#fff" stroke-width="0.7"/>
<path d="M511.20,446.60 A76.4,76.4 0 0 1 511.46,440.29 L549.53,443.45 A38.2,38.2 0 0 0 549.40,446.60 Z" fill="#d9d9d9" stroke="#fff" stroke-width="0.7"/>
<path d="M511.46,440.29 A76.4,76.4 0 0 1 512.24,434.02 L549.92,440.31 A38.2,38.2 0 0 0 549.53,443.45 Z" fill="#d9d9d9" stroke="#fff" stroke-width="0.7"/>
<path d="M512.24,434.02 A76.4,76.4 0 0 1 513.54,427.84 L550.57,437.22 A38.2,38.2 0 0 0 549.92,440.31 Z" fill="#d9d9d9" stroke="#fff" stroke-width="0.7"/>
<path d="M513.54,427.84 A76.4,76.4 0 0 1 515.34,421.79 L551.47,434.20 A38.2,38.2 0 0 0 550.57,437.22 Z" fill="#d9d9d9" stroke="#fff" stroke-width="0.7"/>
<path d="M515.34,421.79 A76.4,76.4 0 0 1 517.63,415.91 L552.62,431.26 A38.2,38.2 0 0 0 551.47,434.20 Z" fill="#d9d9d9" stroke="#fff" stroke-width="0.7"/>
<path d="M517.63,415.91 A76.4,76.4 0 0 1 520.41,410.24 L554.00,428.42 A38.2,38.2 0 0 0 552.62,431.26 Z" fill="#d9d9d9" stroke="#fff" stroke-width="0.7"/>
<path d="M520.41,410.24 A76.4,76.4 0 0 1 523.64,404.81 L555.62,425.71 A38.2,38.2 0 0 0 554.00,428.42 Z" fill="#d9d9d9" stroke="#fff" stroke-width="0.7"/>
<path d="M523.64,404.81 A76.4,76.4 0 0 1 527.31,399.67 L557.45,423.14 A38.2,38.2 0 0 0 555.62,425.71 Z" fill="#d9d9d9" stroke="#fff" stroke-width="0.7"/>
<path d="M527.31,399.67 A76.4,76.4 0 0 1 531.39,394.86 L559.50,420.73 A38.2,38.2 0 0 0 557.45,423.14 Z" fill="#d9d9d9" stroke="#fff" stroke-width="0.7"/>
<path d="M531.39,394.86 A76.4,76.4 0 0 1 535.86,390.39 L561.73,418.50 A38.2,38.2 0 0 0 559.50,420.73 Z" fill="#d9d9d9" stroke="#fff" stroke-width="0.7"/>
<path d="M535.86,390.39 A76.4,76.4 0 0 1 540.67,386.31 L564.14,416.45 A38.2,38.2 0 0 0 561.73,418.50 Z" fill="#d9d9d9" stroke="#fff" stroke-width="0.7"/>
<path d="M540.67,386.31 A76.4,76.4 0 0 1 545.81,382.64 L566.71,414.62 A38.2,38.2 0 0 0 564.14,416.45 Z" fill="#d9d9d9" stroke="#fff" stroke-width="0.7"/>
<path d="M545.81,382.64 A76.4,76.4 0 0 1 551.24,379.41 L569.42,413.00 A38.2,38.2 0 0 0 566.71,414.62 Z" fill="#d9d9d9" stroke="#fff" stroke-width="0.7"/>
<path d="M551.24,379.41 A76.4,76.4 0 0 1 556.91,376.63 L572.26,411.62 A38.2,38.2 0 0 0 569.42,413.00 Z" fill="#d9d9d9" stroke="#fff" stroke-width="0.7"/>
<path d="M556.91,376.63 A76.4,76.4 0 0 1 562.79,374.34 L575.20,410.47 A38.2,38.2 0 0 0 572.26,411.62 Z" fill="#d9d9d9" stroke="#fff" stroke-width="0.7"/>
<path d="M562.79,374.34 A76.4,76.4 0 0 1 568.84,372.54 L578.22,409.57 A38.2,38.2 0 0 0 575.20,410.47 Z" fill="#d9d9d9" stroke="#fff" stroke-width="0.7"/>
<path d="M568.84,372.54 A76.4,76.4 0 0 1 575.02,371.24 L581.31,408.92 A38.2,38.2 0 0 0 578.22,409.57 Z" fill="#d9d9d9" stroke="#fff" stroke-width="0.7"/>
<path d="M575.02,371.24 A76.4,76.4 0 0 1 581.29,370.46 L584.45,408.53 A38.2,38.2 0 0 0 581.31,408.92 Z" fill="#d9d9d9" stroke="#fff" stroke-width="0.7"/>
<path d="M581.29,370.46 A76.4,76.4 0 0 1 587.60,370.20 L587.60,408.40 A38.2,38.2 0 0 0 584.45,408.53 Z" fill="#d9d9d9" stroke="#fff" stroke-width="0.7"/>
<text x="631.3" y="373.2" font-size="16.4" text-anchor="middle" fill="#8c8ceb" stroke="#8c8ceb" stroke-width="0.5" font-weight="normal" letter-spacing="-1.0">10</text>
<text x="668.7" y="417.2" font-size="16.4" text-anchor="middle" fill="#b52ae2" stroke="#b52ae2" stroke-width="0.5" font-weight="normal" >8</text>
<text x="678.1" y="452.5" font-size="16.4" text-anchor="middle" fill="#2010d4" stroke="#2010d4" stroke-width="0.5" font-weight="normal" >2</text>
<text x="587.8" y="451.9" font-size="14" text-anchor="middle" fill="#111" stroke="#111" stroke-width="0.3" font-weight="normal" >n = 76</text>
</svg>
</body></html>
